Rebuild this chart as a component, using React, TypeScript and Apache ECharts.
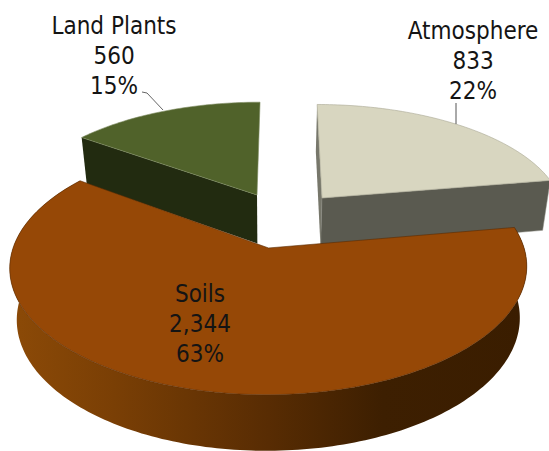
import React, { useEffect, useRef } from "react";
import * as echarts from "echarts";

const categories = ["Atmosphere", "Soils", "Land Plants"];
const values = [833, 2344, 560];
const drawOrder = [0, 2, 1];

const topColors = ["#d8d6c0", "#964806", "#50622a"];
const rimColors = ["#a9a793", "#5a2c04", "#7d8c62"];
const cutColors = ["#5a5a50", "#5a2c04", "#222b10"];
const explodeX = [0.168, -0.053, -0.1054];
const explodeY = [0.0188, -0.422, 0.047];
const radiiX = [1, 1.008, 1];
const radiiY = [1, 1.03, 1];
const extraDepth = [1.5, 0, -0.5];
const labelX = [473, 200, 114];
const labelY = [61, 324, 56];

const VX = 282;
const VY = -570;
const ORIGIN_SPAN = 770;
const DEPTH = 0.139;
const SCALE_X = 238.6;
const total = values.reduce((a, b) => a + b, 0);

function project(x: number, y: number): [number, number] {
  const w = 1 + DEPTH * y;
  return [VX + (SCALE_X * x) / w, VY + ORIGIN_SPAN / w];
}
function dropFor(i: number) {
  return (p: [number, number]): [number, number] => {
    const h = 49 + extraDepth[i] + (p[1] - 195) * 0.0355;
    return [p[0] - (p[0] - 270) * 0.027, p[1] + h];
  };
}

function renderItem(params: any, api: any) {
  const i = drawOrder[params.dataIndex];
  const value = api.value(0) as number;
  const before = values.slice(0, i).reduce((a, b) => a + b, 0);
  const start = (before / total) * 2 * Math.PI;
  const end = ((before + value) / total) * 2 * Math.PI;
  const drop = dropFor(i);
  const at = (t: number) =>
    project(explodeX[i] + radiiX[i] * Math.sin(t), explodeY[i] + radiiY[i] * Math.cos(t));
  const apex = project(explodeX[i], explodeY[i]);
  const arc: [number, number][] = [];
  const steps = Math.ceil((end - start) / 0.02);
  for (let s = 0; s <= steps; s++) arc.push(at(start + ((end - start) * s) / steps));

  const children: any[] = [];
  if (i === 0) {
    const first = arc[0];
    const last = arc[arc.length - 1];
    children.push({
      type: "polygon",
      shape: { points: [first, apex, drop(apex), drop(first)] },
      style: { fill: "#77776b" },
    });
    children.push({
      type: "polygon",
      shape: { points: [apex, last, drop(last), drop(apex)] },
      style: { fill: cutColors[0], stroke: "#8a8a80", lineWidth: 0.5 },
    });
  }
  if (i === 2) {
    const first = arc[0];
    children.push({
      type: "polygon",
      shape: { points: [first, apex, drop(apex), drop(first)] },
      style: { fill: cutColors[2] },
    });
  }
  if (i === 1) {
    children.push({
      type: "polygon",
      shape: { points: [...arc, ...arc.map(drop).reverse()] },
      style: {
        fill: {
          type: "linear",
          x: 10,
          y: 0,
          x2: 527,
          y2: 0,
          global: true,
          colorStops: [
            { offset: 0, color: "#8c4a07" },
            { offset: 0.2, color: "#7a3f05" },
            { offset: 0.5, color: "#582c03" },
            { offset: 0.72, color: "#3d1f01" },
            { offset: 1, color: "#3a1d00" },
          ],
        },
      },
    });
  }
  children.push({
    type: "polygon",
    shape: { points: [apex, ...arc] },
    style: { fill: topColors[i], stroke: rimColors[i], lineWidth: 0.6 },
  });
  if (i === 0) {
    children.push({
      type: "line",
      shape: { x1: 456, y1: 103, x2: 456, y2: 124 },
      style: { stroke: "#555555", lineWidth: 1 },
    });
  }
  if (i === 2) {
    children.push({
      type: "polyline",
      shape: { points: [[142, 92], [147, 93], [163, 110]] },
      style: { fill: "none", stroke: "#666666", lineWidth: 1 },
    });
  }
  children.push({
    type: "text",
    x: labelX[i],
    y: labelY[i],
    style: {
      text: `${categories[i]}\n${value.toLocaleString("en-US")}\n${Math.round((value / total) * 100)}%`,
      fontFamily: "DejaVu Sans Condensed",
      fontSize: 24,
      lineHeight: 30,
      fill: "#141414",
      align: "center",
      verticalAlign: "middle",
    },
  });
  return { type: "group", children };
}

export default function App() {
  const ref = useRef<HTMLDivElement>(null);
  useEffect(() => {
    const chart = echarts.init(ref.current!, undefined, { renderer: "svg" });
    chart.setOption({
      animation: false,
      backgroundColor: "#ffffff",
      series: [
        {
          type: "custom",
          coordinateSystem: "none",
          renderItem,
          silent: true,
          clip: false,
          data: drawOrder.map((i) => [values[i]]),
        },
      ],
    });
    return () => chart.dispose();
  }, []);
  return (
    <div
      ref={ref}
      style={{ position: "absolute", left: 0, top: 0, width: 549, height: 451 }}
    />
  );
}
